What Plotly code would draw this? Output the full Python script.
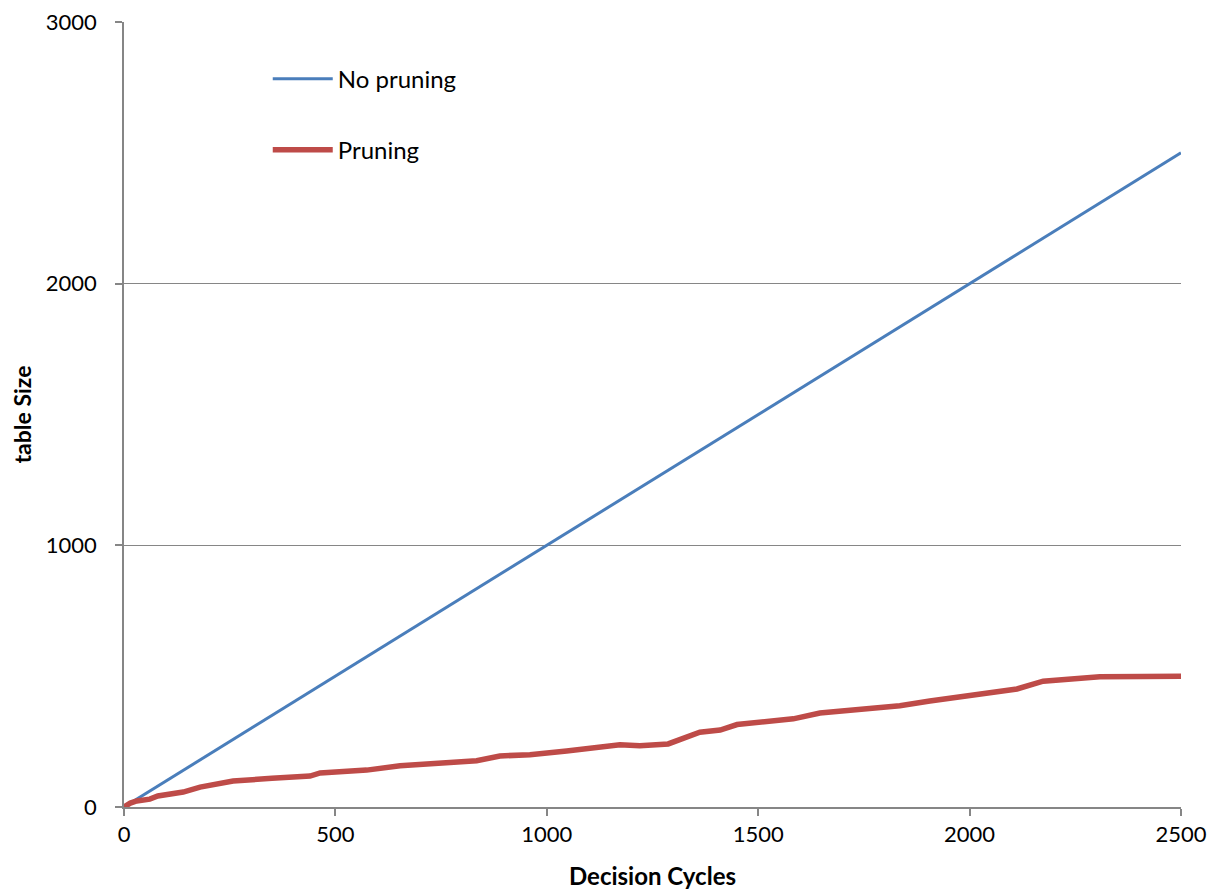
import plotly.graph_objects as go

# Data
no_pruning_x = [0, 2500]
no_pruning_y = [0, 2500]

pruning_x = [0, 15, 30, 61, 80, 140, 180, 258, 350, 440, 464, 574, 653, 740, 834, 889, 960,
             1047, 1120, 1173, 1220, 1287, 1362, 1410, 1450, 1528, 1583, 1646, 1740, 1835,
             1906, 2008, 2112, 2174, 2207, 2269, 2308, 2410, 2500]
pruning_y = [0, 15, 23, 30, 42, 57, 76, 99, 110, 118, 130, 141, 158, 165, 177, 195, 200,
             214, 225, 238, 234, 241, 286, 294, 315, 328, 337, 359, 372, 387,
             405, 429, 451, 481, 485, 489, 498, 499, 500]

x_ticks = [0, 500, 1000, 1500, 2000, 2500]
y_ticks = [0, 1000, 2000, 3000]

FONT = "Lato, 'Open Sans', sans-serif"

fig = go.Figure()
fig.add_trace(go.Scatter(x=no_pruning_x, y=no_pruning_y, mode="lines", name="No pruning",
                         line=dict(color="#4A7EBB", width=3), legendgroup="a"))
fig.add_trace(go.Scatter(x=pruning_x, y=pruning_y, mode="lines", name="Pruning",
                         line=dict(color="#BE4B48", width=5.5), legendgroup="b"))

fig.update_layout(
    width=1215, height=893,
    margin=dict(l=116, r=42, t=14, b=94),
    paper_bgcolor="white", plot_bgcolor="white",
    font=dict(family=FONT, size=22, color="black"),
    showlegend=True,
    legend=dict(x=0.136, y=0.956, xanchor="left", yanchor="top",
                bgcolor="rgba(0,0,0,0)", tracegroupgap=37, itemwidth=60,
                traceorder="grouped", font=dict(size=24, family=FONT)),
    xaxis=dict(range=[0, 2500], tickvals=x_ticks, showgrid=False, zeroline=False,
               showline=True, linecolor="#868686", linewidth=1.5, automargin=False,
               ticklabeloverflow="allow",
               ticks="outside", ticklen=7, tickcolor="#868686", tickwidth=1.5,
               title=dict(text="<b>Decision Cycles</b>", font=dict(size=24), standoff=22),
               tickfont=dict(size=22)),
    yaxis=dict(range=[0, 3000], tickvals=y_ticks, showgrid=True, gridcolor="#868686",
               gridwidth=1, zeroline=False, showline=True, linecolor="#868686", linewidth=1.5,
               automargin=False, ticklabelstandoff=14, ticklabeloverflow="allow",
               ticks="outside", ticklen=7, tickcolor="#868686", tickwidth=1.5,
               title=dict(text="<b>table Size</b>", font=dict(size=23), standoff=14),
               tickfont=dict(size=22)),
)

fig.write_html("out.html")
